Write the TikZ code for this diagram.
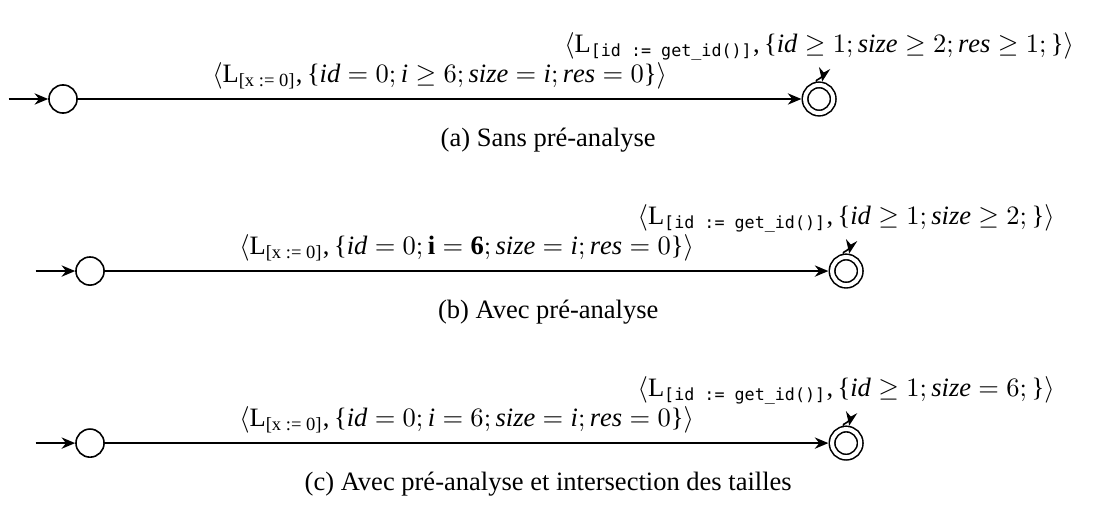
\documentclass[tikz,border=0pt]{standalone}
\usepackage{amsmath}
\usepackage{fontspec}
\setmainfont{Liberation Serif}
\setmonofont{DejaVu Sans Mono}[Scale=0.9]
\DeclareSymbolFont{letters}{TU}{\rmdefault}{m}{it}
\AtBeginDocument{\mathcode`\,="602C}
\usetikzlibrary{arrows.meta,positioning}
\newcommand{\locinit}{\mathrm{L}_{\text{[x := 0]}}}
\newcommand{\locloop}{\mathrm{L}_{\texttt{[id := get\_id()]}}}
\newcommand{\lset}{\mathopen{\text{\{}}}
\newcommand{\rset}{\mathclose{\text{\}}}}
\newcommand{\diagfont}{\fontsize{10}{12}\selectfont}

\begin{document}
\begin{tikzpicture}[
        state/.style={circle, draw, semithick, minimum size=10.6pt, inner sep=0pt},
        accept/.style={state, double, double distance=1.5pt, outer sep=1.4pt},
        arr/.style={-{Stealth[length=1.8mm, width=1.5mm]}, semithick},
        selfloop/.style={arr, loop above, out=100, in=80},
        every loop/.style={looseness=15},
        subcap/.style={font=\diagfont},
        font=\diagfont, node distance=10.02cm, on grid
      ]
      \useasboundingbox (-0.835,1.312) rectangle (13.795,-5.393);

      % (a) sans pre-analyse
      \node[state] (ia) {};
      \node[accept, right=of ia] (fa) {};
      \coordinate[left=0.72cm of ia] (sa);
      \draw[arr] (sa) -- (ia);
      \draw[arr] (ia) -- node[above] {$\langle \locinit, \lset id = 0; i \geq 6; size = i; res = 0\rset\rangle$} (fa);
      \path (fa) edge[selfloop] node[above=1.3mm] {$\langle \locloop, \lset id \geq 1; size \geq 2; res \geq 1;\rset\rangle$} (fa);
      \node[subcap] (capa) at (6.43,-0.545) {(a) Sans pré-analyse};

      % (b) avec pre-analyse
      \node[state, below right=2.28cm and 0.358cm of ia] (ib) {};
      \node[accept, right=of ib] (fb) {};
      \coordinate[left=0.72cm of ib] (sb);
      \draw[arr] (sb) -- (ib);
      \draw[arr] (ib) -- node[above] {$\langle \locinit, \lset id = 0; \mathbf{i} = \mathbf{6}; size = i; res = 0\rset\rangle$} (fb);
      \path (fb) edge[selfloop] node[above=1.3mm] {$\langle \locloop, \lset id \geq 1; size \geq 2;\rset\rangle$} (fb);
      \node[subcap] (capb) at (6.43,-2.825) {(b) Avec pré-analyse};

      % (c) avec pre-analyse et intersection
      \node[state, below=2.28cm of ib] (ic) {};
      \node[accept, right=of ic] (fc) {};
      \coordinate[left=0.72cm of ic] (sc);
      \draw[arr] (sc) -- (ic);
      \draw[arr] (ic) -- node[above] {$\langle \locinit, \lset id = 0; i = 6; size = i; res = 0\rset\rangle$} (fc);
      \path (fc) edge[selfloop] node[above=1.3mm] {$\langle \locloop, \lset id \geq 1; size = 6;\rset\rangle$} (fc);
      \node[subcap] (capc) at (6.43,-5.105) {(c) Avec pré-analyse et intersection des tailles};
    \end{tikzpicture}
\end{document}
